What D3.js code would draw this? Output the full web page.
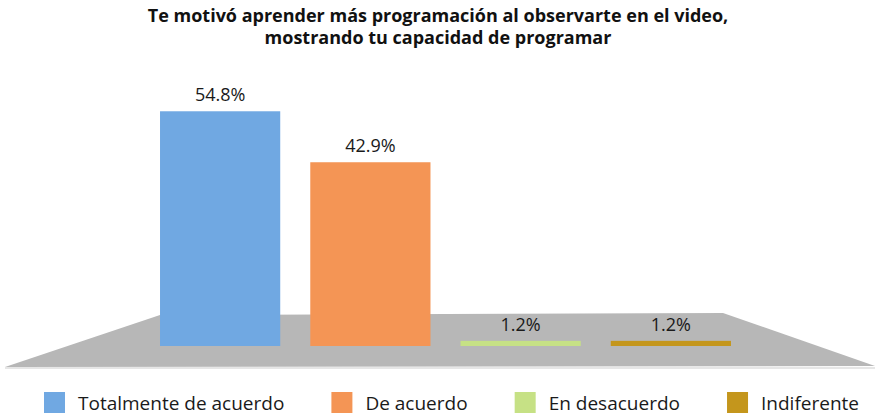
<!DOCTYPE html>
<meta charset="utf-8">
<style>
  body { margin: 0; background: #fff; }
  text { font-family: "Open Sans", "Noto Sans", sans-serif; fill: #1a1a1a; }
  .title { font-weight: bold; font-size: 18px; text-anchor: middle; fill: #111; }
  .label { font-size: 18px; text-anchor: middle; }
  .legend text { font-size: 19px; }
</style>
<svg width="875" height="417"></svg>
<script src="https://d3js.org/d3.v7.min.js"></script>
<script>
  // data
  var categories = ["Totalmente de acuerdo", "De acuerdo", "En desacuerdo", "Indiferente"];
  var values = [54.8, 42.9, 1.2, 1.2];
  var colors = ["#70a8e2", "#f49555", "#c6e185", "#c4961c"];
  var titleLines = ["Te motivó aprender más programación al observarte en el video,",
                    "mostrando tu capacidad de programar"];

  var svg = d3.select("svg"),
      width = +svg.attr("width");

  var x = d3.scaleBand()
    .domain(categories)
    .range([145, 746])
    .paddingInner(0.2)
    .paddingOuter(0.1);

  var y = d3.scaleLinear()
    .domain([0, 60])
    .range([346, 89]);

  // title
  svg.append("text")
    .attr("class", "title")
    .selectAll("tspan")
    .data(titleLines)
    .enter().append("tspan")
    .attr("x", 438)
    .attr("y", function (d, i) { return 22 + i * 22; })
    .text(function (d) { return d; });

  // floor (3D-ish base plane)
  var floor = [[160, 315], [723, 313], [875, 366], [5, 367]];
  svg.append("path")
    .attr("d", d3.line()(floor) + "Z")
    .attr("fill", "#b7b7b7");
  svg.append("line")
    .attr("x1", 5).attr("x2", 875)
    .attr("y1", 368).attr("y2", 368)
    .attr("stroke", "#dedede")
    .attr("stroke-width", 1.5);

  // bars
  svg.selectAll("rect.bar")
    .data(values)
    .enter().append("rect")
    .attr("class", "bar")
    .attr("x", function (d, i) { return x(categories[i]); })
    .attr("width", x.bandwidth())
    .attr("y", function (d) { return y(d); })
    .attr("height", function (d) { return y(0) - y(d); })
    .attr("fill", function (d, i) { return colors[i]; });

  svg.selectAll("text.label")
    .data(values)
    .enter().append("text")
    .attr("class", "label")
    .attr("x", function (d, i) { return x(categories[i]) + x.bandwidth() / 2; })
    .attr("y", function (d) { return y(d) - 10; })
    .text(function (d) { return d.toFixed(1) + "%"; });

  // legend, spread between 44 and 859
  var legend = svg.append("g").attr("class", "legend");
  var items = legend.selectAll("g")
    .data(categories)
    .enter().append("g");
  items.append("rect")
    .attr("width", 21).attr("height", 21)
    .attr("y", 392)
    .attr("fill", function (d, i) { return colors[i]; });
  items.append("text")
    .attr("x", 34)
    .attr("y", 410)
    .text(function (d) { return d; });

  var widths = [];
  items.each(function () { widths.push(this.getBBox().width); });
  var left = 44, right = 859;
  var gap = (right - left - d3.sum(widths)) / (widths.length - 1);
  var pos = left;
  items.attr("transform", function (d, i) {
    var t = "translate(" + pos + ",0)";
    pos += widths[i] + gap;
    return t;
  });
</script>
